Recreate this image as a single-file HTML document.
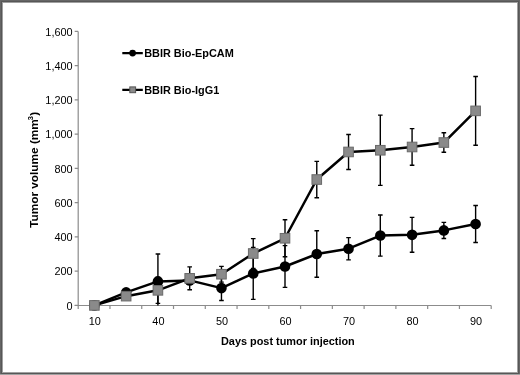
<!DOCTYPE html>
<html><head><meta charset="utf-8"><style>
html,body{margin:0;padding:0;background:#fff;}
body{width:520px;height:375px;position:relative;overflow:hidden;}
.frame{position:absolute;left:0;top:0;width:520px;height:375px;}
svg{position:absolute;left:0;top:0;will-change:transform;}
text{font-family:"Liberation Sans",sans-serif;fill:#000;}
.r{font-size:10.9px;}
.b{font-size:10.9px;font-weight:bold;}
</style></head><body>
<svg width="520" height="375" viewBox="0 0 520 375">
<rect x="0" y="0" width="520" height="375" fill="#666"/><rect x="0" y="374" width="520" height="1" fill="#a2a2a2"/><rect x="1" y="1" width="518" height="373" fill="#575757"/><rect x="2" y="2" width="516" height="371" fill="#a0a0a0"/><rect x="3" y="3" width="514" height="369" fill="#fff"/>
<path d="M78.2 31.4V309" stroke="#8c8c8c" stroke-width="1.2" fill="none"/>
<path d="M74.7 305.5H491.2" stroke="#8c8c8c" stroke-width="1" fill="none"/>
<path d="M74.7 305.4H78.2M74.7 271.15H78.2M74.7 236.9H78.2M74.7 202.65H78.2M74.7 168.4H78.2M74.7 134.15H78.2M74.7 99.9H78.2M74.7 65.65H78.2M74.7 31.4H78.2M109.97 305.4V309M141.74 305.4V309M173.51 305.4V309M205.28 305.4V309M237.05 305.4V309M268.82 305.4V309M300.58 305.4V309M332.35 305.4V309M364.12 305.4V309M395.89 305.4V309M427.66 305.4V309M459.43 305.4V309M491.2 305.4V309" stroke="#8c8c8c" stroke-width="1.2" fill="none"/>
<text x="72.6" y="309.6" text-anchor="end" class="r">0</text>
<text x="72.6" y="275.35" text-anchor="end" class="r">200</text>
<text x="72.6" y="241.1" text-anchor="end" class="r">400</text>
<text x="72.6" y="206.85" text-anchor="end" class="r">600</text>
<text x="72.6" y="172.6" text-anchor="end" class="r">800</text>
<text x="72.6" y="138.35" text-anchor="end" class="r">1,000</text>
<text x="72.6" y="104.1" text-anchor="end" class="r">1,200</text>
<text x="72.6" y="69.85" text-anchor="end" class="r">1,400</text>
<text x="72.6" y="35.6" text-anchor="end" class="r">1,600</text>
<text x="94.88" y="325.4" text-anchor="middle" class="r">10</text>
<text x="158.42" y="325.4" text-anchor="middle" class="r">40</text>
<text x="221.96" y="325.4" text-anchor="middle" class="r">50</text>
<text x="285.5" y="325.4" text-anchor="middle" class="r">60</text>
<text x="349.04" y="325.4" text-anchor="middle" class="r">70</text>
<text x="412.58" y="325.4" text-anchor="middle" class="r">80</text>
<text x="476.12" y="325.4" text-anchor="middle" class="r">90</text>
<polyline points="94.38,305.4 126.15,292.38 157.92,281.42 189.69,280.4 221.46,288.1 253.23,273.38 285,266.53 316.77,254.02 348.54,248.72 380.31,235.53 412.08,234.84 443.85,230.39 475.62,224.06" fill="none" stroke="#000" stroke-width="2.5" stroke-linejoin="round"/>
<path d="M157.92 254.02V305.4M155.62 254.02H160.22M221.46 275.77V300.43M219.16 275.77H223.76M219.16 300.43H223.76M253.23 247.35V299.41M250.93 247.35H255.53M250.93 299.41H255.53M285 245.63V287.42M282.7 245.63H287.3M282.7 287.42H287.3M316.77 230.73V277.31M314.47 230.73H319.07M314.47 277.31H319.07M348.54 237.58V259.85M346.24 237.58H350.84M346.24 259.85H350.84M380.31 214.98V256.08M378.01 214.98H382.61M378.01 256.08H382.61M412.08 217.38V252.31M409.78 217.38H414.38M409.78 252.31H414.38M443.85 222.34V238.44M441.55 222.34H446.15M441.55 238.44H446.15M475.62 205.56V242.55M473.32 205.56H477.92M473.32 242.55H477.92" stroke="#000" stroke-width="1.4" fill="none"/>
<circle cx="94.38" cy="305.4" r="5.3" fill="#000"/>
<circle cx="126.15" cy="292.38" r="5.3" fill="#000"/>
<circle cx="157.92" cy="281.42" r="5.3" fill="#000"/>
<circle cx="189.69" cy="280.4" r="5.3" fill="#000"/>
<circle cx="221.46" cy="288.1" r="5.3" fill="#000"/>
<circle cx="253.23" cy="273.38" r="5.3" fill="#000"/>
<circle cx="285" cy="266.53" r="5.3" fill="#000"/>
<circle cx="316.77" cy="254.02" r="5.3" fill="#000"/>
<circle cx="348.54" cy="248.72" r="5.3" fill="#000"/>
<circle cx="380.31" cy="235.53" r="5.3" fill="#000"/>
<circle cx="412.08" cy="234.84" r="5.3" fill="#000"/>
<circle cx="443.85" cy="230.39" r="5.3" fill="#000"/>
<circle cx="475.62" cy="224.06" r="5.3" fill="#000"/>
<polyline points="94.38,305.4 126.15,296.15 157.92,290.33 189.69,278.34 221.46,274.23 253.23,253.51 285,238.27 316.77,179.53 348.54,151.96 380.31,150.25 412.08,146.99 443.85,142.54 475.62,110.86" fill="none" stroke="#000" stroke-width="2.5" stroke-linejoin="round"/>
<path d="M157.92 277.31V303.34M155.62 277.31H160.22M155.62 303.34H160.22M189.69 266.87V289.82M187.39 266.87H191.99M187.39 289.82H191.99M221.46 266.35V282.11M219.16 266.35H223.76M219.16 282.11H223.76M253.23 238.61V268.41M250.93 238.61H255.53M250.93 268.41H255.53M285 219.77V256.76M282.7 219.77H287.3M282.7 256.76H287.3M316.77 161.38V197.68M314.47 161.38H319.07M314.47 197.68H319.07M348.54 134.49V169.43M346.24 134.49H350.84M346.24 169.43H350.84M380.31 115.14V185.35M378.01 115.14H382.61M378.01 185.35H382.61M412.08 128.67V165.32M409.78 128.67H414.38M409.78 165.32H414.38M443.85 132.78V152.3M441.55 132.78H446.15M441.55 152.3H446.15M475.62 76.44V145.28M473.32 76.44H477.92M473.32 145.28H477.92" stroke="#000" stroke-width="1.4" fill="none"/>
<rect x="89.58" y="300.6" width="9.6" height="9.6" fill="#8a8a8a" stroke="#6a6a6a" stroke-width="1"/>
<rect x="121.35" y="291.35" width="9.6" height="9.6" fill="#8a8a8a" stroke="#6a6a6a" stroke-width="1"/>
<rect x="153.12" y="285.53" width="9.6" height="9.6" fill="#8a8a8a" stroke="#6a6a6a" stroke-width="1"/>
<rect x="184.89" y="273.54" width="9.6" height="9.6" fill="#8a8a8a" stroke="#6a6a6a" stroke-width="1"/>
<rect x="216.66" y="269.43" width="9.6" height="9.6" fill="#8a8a8a" stroke="#6a6a6a" stroke-width="1"/>
<rect x="248.43" y="248.71" width="9.6" height="9.6" fill="#8a8a8a" stroke="#6a6a6a" stroke-width="1"/>
<rect x="280.2" y="233.47" width="9.6" height="9.6" fill="#8a8a8a" stroke="#6a6a6a" stroke-width="1"/>
<rect x="311.97" y="174.73" width="9.6" height="9.6" fill="#8a8a8a" stroke="#6a6a6a" stroke-width="1"/>
<rect x="343.74" y="147.16" width="9.6" height="9.6" fill="#8a8a8a" stroke="#6a6a6a" stroke-width="1"/>
<rect x="375.51" y="145.45" width="9.6" height="9.6" fill="#8a8a8a" stroke="#6a6a6a" stroke-width="1"/>
<rect x="407.28" y="142.19" width="9.6" height="9.6" fill="#8a8a8a" stroke="#6a6a6a" stroke-width="1"/>
<rect x="439.05" y="137.74" width="9.6" height="9.6" fill="#8a8a8a" stroke="#6a6a6a" stroke-width="1"/>
<rect x="470.82" y="106.06" width="9.6" height="9.6" fill="#8a8a8a" stroke="#6a6a6a" stroke-width="1"/>
<path d="M122.3 53.2H142.8M122.3 89.8H142.8" stroke="#000" stroke-width="2.3"/>
<circle cx="132.6" cy="53.1" r="3.35" fill="#000"/>
<rect x="129.8" y="86.9" width="5.8" height="5.8" fill="#8a8a8a" stroke="#555" stroke-width="1"/>
<text x="144.2" y="57" class="b">BBIR Bio-EpCAM</text>
<text x="144.2" y="93.7" class="b">BBIR Bio-IgG1</text>
<text x="221" y="344.7" class="b">Days post tumor injection</text>
<text transform="translate(38.3,227.8) rotate(-90)" class="b" style="font-size:11.8px;letter-spacing:0px">Tumor volume (mm<tspan dx="-1.1" dy="-5.4" font-size="7.5">3</tspan><tspan dx="0.4" dy="5.4">)</tspan></text>
</svg>
</body></html>
